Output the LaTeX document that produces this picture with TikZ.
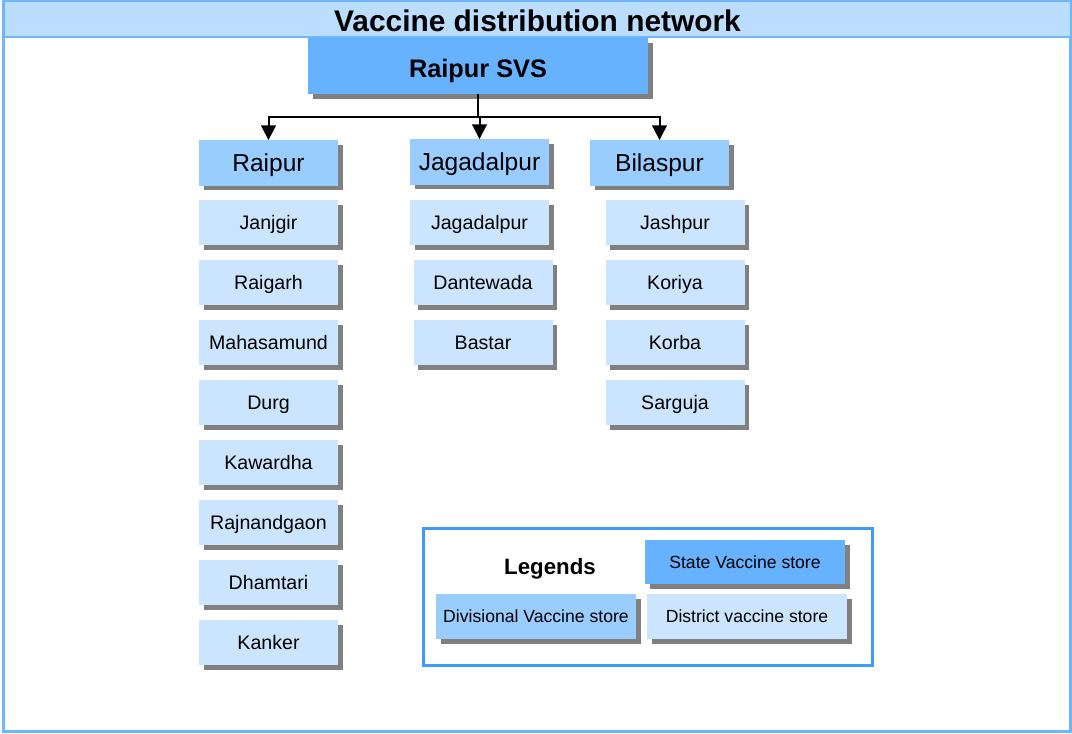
\documentclass[tikz,border=0pt]{standalone}
\usepackage{fontspec}
\setmainfont{Liberation Sans}
\usetikzlibrary{arrows.meta,shadows}
\definecolor{svsblue}{HTML}{66B2FF}
\definecolor{divblue}{HTML}{99CCFF}
\definecolor{distblue}{HTML}{CCE5FF}
\definecolor{bandblue}{HTML}{BBDDFF}
\definecolor{frameblue}{HTML}{70B5FF}
\definecolor{legendblue}{HTML}{3D9BFF}
\definecolor{shadowgray}{HTML}{808080}
\begin{document}
\begin{tikzpicture}[x=0.75pt,y=-0.75pt,
  store/.style={inner sep=0pt, text depth=0pt,
    drop shadow={shadow xshift=3.4pt,shadow yshift=-3.6pt,fill=shadowgray,opacity=1}},
  svsbox/.style={store, fill=svsblue, minimum width=255pt, minimum height=42pt,
    text height=13.6pt, font=\fontsize{19}{22}\selectfont\bfseries},
  divbox/.style={store, fill=divblue, minimum width=104.25pt, minimum height=34pt,
    text height=13.2pt, font=\fontsize{18.4}{22}\selectfont},
  distbox/.style={store, fill=distblue, minimum width=104.25pt, minimum height=33.75pt,
    text height=10.5pt, font=\fontsize{14.7}{18}\selectfont},
  legbox/.style={store, minimum width=150pt, minimum height=33.4pt,
    text height=9.4pt, font=\fontsize{13.2}{16}\selectfont},
  link/.style={line width=1.5pt},
  feed/.style={link, -{Triangle[width=11pt,length=11pt]}}
]
\useasboundingbox (0,0) rectangle (1072,734);

% outer frame and title band
\draw[frameblue, line width=2.25pt] (3.5,1.5) rectangle (1070.5,731.5);
\filldraw[fill=bandblue, draw=frameblue, line width=1.5pt] (3.5,1.5) rectangle (1070.5,37);
\node[font=\fontsize{22.4}{26}\selectfont\bfseries, text height=16pt, text depth=0pt, inner sep=0pt] (title) at (537.5,20.5) {Vaccine distribution network};

% state store
\node[svsbox] (svs) at (478,66) {};
\node[font=\fontsize{19}{22}\selectfont\bfseries, text height=13.6pt, text depth=0pt, inner sep=0pt] (svstext) at (478,68) {Raipur SVS};

% divisional stores
\node[divbox] (raipur) at (268.5,163) {Raipur};
\node[divbox] (jagdiv) at (479.5,162) {Jagadalpur};
\node[divbox] (bilaspur) at (659.5,163) {Bilaspur};

% distribution links
\coordinate (bus) at (478,117);
\draw[link] (svs.south) -- (bus);
\draw[feed] (bus) -| (raipur.north);
\draw[feed] (bus) -| (jagdiv.north);
\draw[feed] (bus) -| (bilaspur.north);

% district stores under Raipur
\foreach \t [count=\i from 0] in {Janjgir,Raigarh,Mahasamund,Durg,Kawardha,Rajnandgaon,Dhamtari,Kanker}
  \node[distbox] (rp\i) at (268.5,{222.5+60*\i}) {\t};

% district stores under Jagadalpur
\node[distbox] (jg0) at (479.5,222.5) {Jagadalpur};
\node[distbox] (jg1) at (483,282.5) {Dantewada};
\node[distbox] (jg2) at (483,342.5) {Bastar};

% district stores under Bilaspur
\foreach \t [count=\i from 0] in {Jashpur,Koriya,Korba,Sarguja}
  \node[distbox] (bl\i) at (675,{222.5+60*\i}) {\t};

% legend
\node[draw=legendblue, line width=2.25pt, minimum width=336.4pt, minimum height=102.75pt] (legend) at (648.25,596.5) {};
\node[font=\fontsize{16.7}{20}\selectfont\bfseries, text height=12pt, text depth=0pt, inner sep=0pt] (legtitle) at (550,566.5) {Legends};
\node[legbox, fill=svsblue] (legsvs) at (745,562) {State Vaccine store};
\node[legbox, fill=divblue] (legdiv) at (536,616.5) {Divisional Vaccine store};
\node[legbox, fill=distblue] (legdist) at (747,616.5) {District vaccine store};
\end{tikzpicture}
\end{document}
